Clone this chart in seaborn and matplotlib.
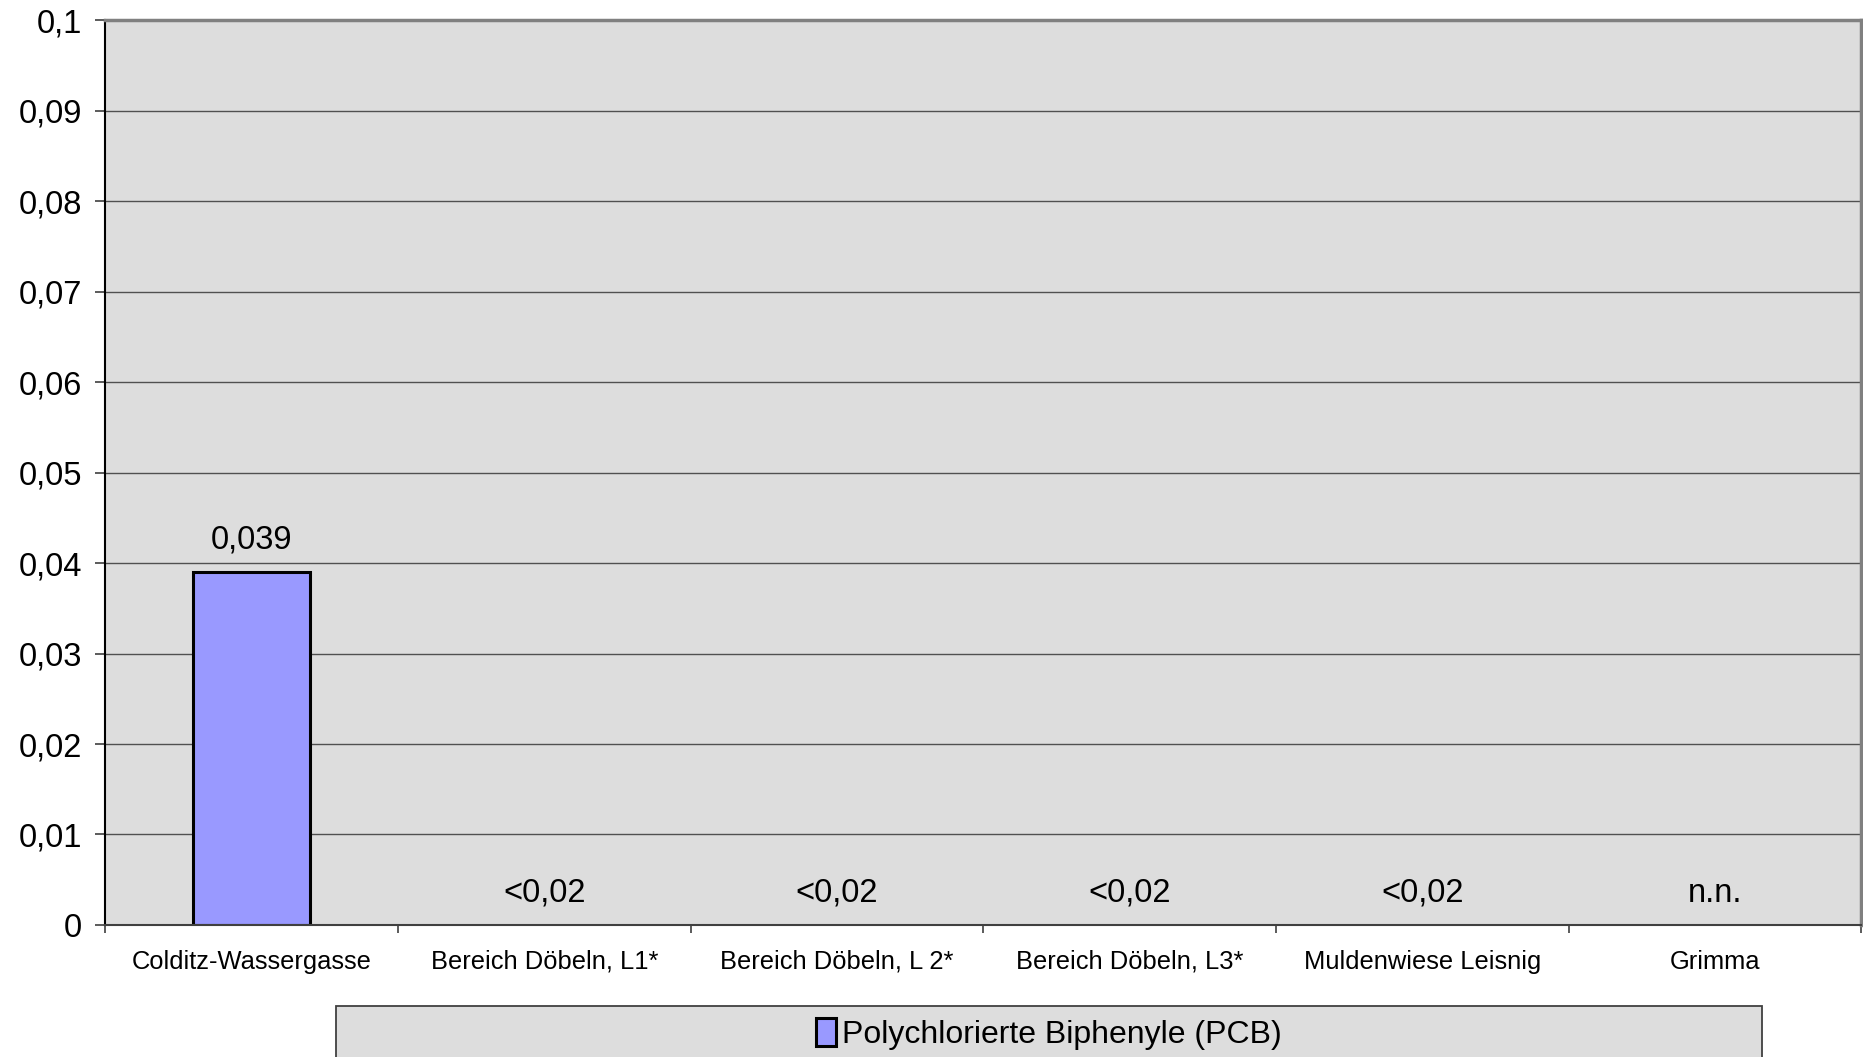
import numpy as np
import pandas as pd
import matplotlib
matplotlib.use("Agg")
import matplotlib.pyplot as plt
from matplotlib.patches import Rectangle
from matplotlib.ticker import FuncFormatter, FixedLocator
import seaborn as sns

# data
sites = ["Colditz-Wassergasse", "Bereich Döbeln, L1*", "Bereich Döbeln, L 2*",
         "Bereich Döbeln, L3*", "Muldenwiese Leisnig", "Grimma"]
pcb = [0.039, np.nan, np.nan, np.nan, np.nan, np.nan]   # below detection -> no bar
bar_labels = ["0,039", "<0,02", "<0,02", "<0,02", "<0,02", "n.n."]
series_name = "Polychlorierte Biphenyle (PCB)"

df = pd.DataFrame({"Site": sites, "PCB": pcb})

plt.rcParams["font.family"] = ["Liberation Sans", "DejaVu Sans"]

fig = plt.figure(figsize=(18.63, 10.57), dpi=100)
ax = fig.add_axes([0.0566, 0.1249, 0.9424, 0.8561])
ax.set_facecolor("#DDDDDD")

sns.barplot(data=df, x="Site", y="PCB", order=sites, color="#9999FF",
            width=0.4, saturation=1, edgecolor="black", linewidth=2.2,
            label=series_name, ax=ax)
if ax.get_legend() is not None:
    ax.get_legend().remove()

# value labels above bars / baseline
for i, (v, lab) in enumerate(zip(pcb, bar_labels)):
    h = 0 if np.isnan(v) else v
    ax.annotate(lab, (i, h), xytext=(0, 23), textcoords="offset points",
                ha="center", va="center", fontsize=23.5)

ax.set_ylim(0, 0.1)
ax.set_xlim(-0.5, len(sites) - 0.5)
ax.yaxis.set_major_locator(FixedLocator(np.arange(0, 0.1001, 0.01)))
ax.yaxis.set_major_formatter(FuncFormatter(
    lambda v, p: ("%.2f" % v).rstrip("0").rstrip(".").replace(".", ",")))
ax.yaxis.grid(True, color="#505050", linewidth=1.0)
ax.set_axisbelow(True)
ax.tick_params(axis="y", labelsize=23.5, length=7, width=1.2, pad=10, color="#404040")

ax.set_xticks(range(len(sites)))
ax.set_xticklabels(sites)
ax.set_xticks(np.arange(-0.5, len(sites)), minor=True)
ax.tick_params(axis="x", which="major", length=0, labelsize=18.4, pad=18)
ax.tick_params(axis="x", which="minor", length=6, width=1.2, color="#404040")
ax.set_xlabel("")
ax.set_ylabel("")

for side in ["top", "right"]:
    ax.spines[side].set_color("#808080")
    ax.spines[side].set_linewidth(2.5)
ax.spines["left"].set_color("black")
ax.spines["left"].set_linewidth(1.5)
ax.spines["bottom"].set_color("#404040")
ax.spines["bottom"].set_linewidth(1.5)

# legend box at the bottom
fig.patches.append(Rectangle((336 / 1863, -0.05), (1762 - 336) / 1863, 0.05 + 51 / 1057,
                             transform=fig.transFigure, facecolor="#DDDDDD",
                             edgecolor="#404040", linewidth=1.3, zorder=0.5))
handles, labels = ax.get_legend_handles_labels()
leg = fig.legend(handles, labels, loc="center", bbox_to_anchor=(1049 / 1863, 23 / 1057),
                 frameon=False, fontsize=23, handlelength=0.6, handleheight=1.0,
                 handletextpad=0.2)
leg.set_zorder(5)

fig.savefig("out.png", dpi=100)
